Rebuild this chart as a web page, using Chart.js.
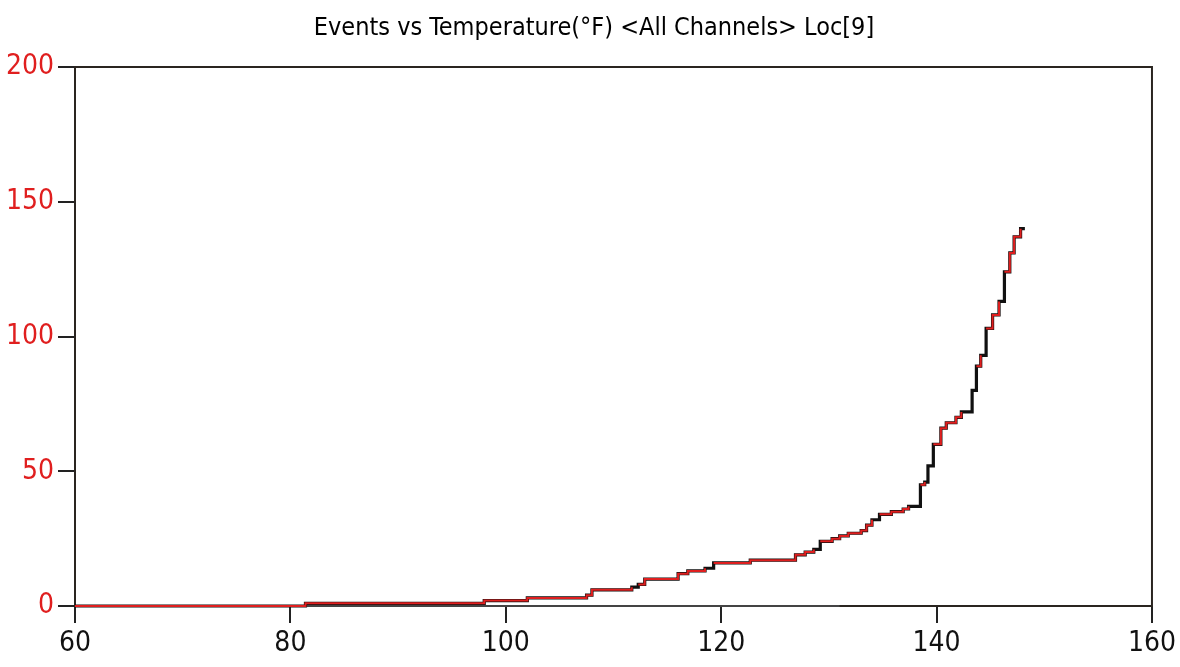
<!DOCTYPE html>
<html>
<head>
<meta charset="utf-8">
<title>Events vs Temperature</title>
<script src="https://cdn.jsdelivr.net/npm/chart.js@4"></script>
<style>
  html, body { margin: 0; padding: 0; background: #fff; }
  #wrap { width: 1180px; height: 667px; position: relative; }
</style>
</head>
<body>
<div id="wrap"><canvas id="chart"></canvas></div>
<script>
// --- DATA ---
const temperatures = [60, 81.4, 98.0, 102.0, 107.5, 108.0, 111.7, 112.3, 112.9, 116.0, 116.9, 118.5, 119.3,
    122.7, 126.9, 127.8, 128.6, 129.2, 130.3, 131.0, 131.8, 133.0, 133.5, 134.0, 134.7, 135.8, 136.9,
    137.4, 138.5, 138.9, 139.2, 139.7, 140.4, 140.9, 141.8, 142.3, 143.3, 143.7, 144.1, 144.6, 145.2,
    145.8, 146.3, 146.8, 147.2, 147.8, 148.2];
const events = [0, 1, 2, 3, 4, 6, 7, 8, 10, 12, 13, 14, 16,
    17, 19, 20, 21, 24, 25, 26, 27, 28, 30, 32, 34, 35, 36,
    37, 45, 46, 52, 60, 66, 68, 70, 72, 80, 89, 93, 103, 108,
    113, 124, 131, 137, 140, 140];
// steps where the black trace shows through instead of the red one
const blackSteps = [112.3, 119.3, 129.2, 134.7, 138.5, 139.2, 139.7, 143.3, 143.7, 144.6, 146.3, 148.2];
// second channel that stays at zero
const zeroTemps = [81.4, 131.0];
const zeroEvents = [0, 0];

const xTicks = [60, 80, 100, 120, 140, 160];
const yTicks = [0, 50, 100, 150, 200];

const TITLE = 'Events vs Temperature(°F) <All Channels> Loc[9]';
const RED = '#e01f1f';
const BLACK = '#111111';
const FONT = "'Liberation Sans Narrow', 'DejaVu Sans Condensed', sans-serif";

const mainPoints = temperatures.map((t, i) => ({ x: t, y: events[i] }));
const zeroPoints = zeroTemps.map((t, i) => ({ x: t, y: zeroEvents[i] }));

// frame around the plot area, drawn under the traces
const framePlugin = {
    id: 'frame',
    beforeDatasetsDraw(chart) {
        const { ctx, chartArea: a } = chart;
        ctx.save();
        ctx.strokeStyle = '#2a2520';
        ctx.lineWidth = 2;
        ctx.strokeRect(a.left, a.top, a.right - a.left, a.bottom - a.top);
        ctx.restore();
    }
};

// title centred on the whole canvas (the built-in one centres on the padded box)
const titlePlugin = {
    id: 'pageTitle',
    afterDraw(chart) {
        const { ctx, width } = chart;
        ctx.save();
        ctx.fillStyle = '#000';
        ctx.font = `25px ${FONT}`;
        ctx.textAlign = 'center';
        ctx.textBaseline = 'middle';
        ctx.fillText(TITLE, width / 2 + 4, 28);
        ctx.restore();
    }
};

new Chart(document.getElementById('chart'), {
    type: 'line',
    data: {
        datasets: [
            {
                data: zeroPoints,
                borderColor: '#444',
                borderWidth: 2,
                pointRadius: 0,
                stepped: true,
                order: 3
            },
            {
                // dark underlay trace
                data: mainPoints,
                borderColor: BLACK,
                borderWidth: 3.2,
                pointRadius: 0,
                stepped: true,
                order: 2
            },
            {
                data: mainPoints,
                borderWidth: 2,
                pointRadius: 0,
                stepped: true,
                borderColor: RED,
                segment: {
                    borderColor: ctx => (blackSteps.includes(temperatures[ctx.p1DataIndex]) ? 'rgba(0,0,0,0)' : RED)
                },
                order: 1
            }
        ]
    },
    options: {
        responsive: true,
        maintainAspectRatio: false,
        animation: false,
        clip: false,
        layout: { padding: { left: 0, right: 28, top: 67, bottom: 0 } },
        plugins: {
            legend: { display: false },
            tooltip: { enabled: false },
            title: { display: false }
        },
        scales: {
            x: {
                type: 'linear',
                min: 60,
                max: 160,
                afterBuildTicks: scale => { scale.ticks = xTicks.map(v => ({ value: v })); },
                afterFit: scale => { scale.height = 61; },
                grid: { display: true, drawOnChartArea: false, drawTicks: true, tickLength: 17, color: '#222', lineWidth: 2 },
                border: { display: false },
                ticks: { color: '#111', padding: 4, maxRotation: 0, font: { family: FONT, size: 28 } }
            },
            y: {
                type: 'linear',
                min: 0,
                max: 200,
                afterBuildTicks: scale => { scale.ticks = yTicks.map(v => ({ value: v })); },
                afterFit: scale => { scale.width = 75; },
                grid: { display: true, drawOnChartArea: false, drawTicks: true, tickLength: 17, color: '#222', lineWidth: 2 },
                border: { display: false },
                ticks: { color: RED, padding: 4, font: { family: FONT, size: 28 } }
            }
        }
    },
    plugins: [framePlugin, titlePlugin]
});
</script>
</body>
</html>
